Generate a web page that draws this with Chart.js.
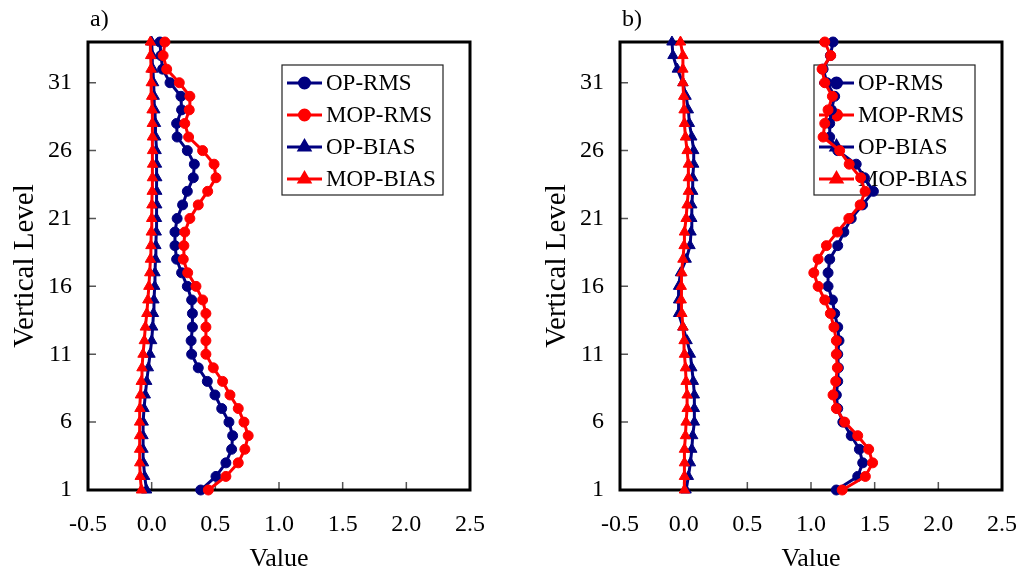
<!DOCTYPE html>
<html>
<head>
<meta charset="utf-8">
<script src="https://cdn.jsdelivr.net/npm/chart.js@4/dist/chart.umd.min.js"></script>
<style>
html,body{margin:0;padding:0;background:#fff;}
#wrap{position:relative;width:1020px;height:577px;}
canvas{position:absolute;top:0;}
</style>
</head>
<body>
<div id="wrap">
<canvas id="chartA" width="510" height="577" style="left:0"></canvas>
<canvas id="chartB" width="510" height="577" style="left:510px"></canvas>
</div>
<script>
// levels 1..34
const levels = [1,2,3,4,5,6,7,8,9,10,11,12,13,14,15,16,17,18,19,20,21,22,23,24,25,26,27,28,29,30,31,32,33,34];
const seriesNames = ["OP-RMS","MOP-RMS","OP-BIAS","MOP-BIAS"];
const panelNames = ["a)","b)"];
const yTicks = [1,6,11,16,21,26,31];
const xTicks = [-0.5,0,0.5,1,1.5,2,2.5];
const xTickLabels = ["-0.5","0.0","0.5","1.0","1.5","2.0","2.5"];

// panel a
const opRmsA = [0.385,0.505,0.583,0.628,0.636,0.607,0.55,0.497,0.437,0.366,0.314,0.31,0.32,0.32,0.314,0.28,0.235,0.196,0.183,0.183,0.2,0.243,0.28,0.327,0.335,0.28,0.2,0.196,0.235,0.23,0.144,0.086,0.073,0.065];
const mopRmsA = [0.445,0.583,0.68,0.732,0.758,0.725,0.68,0.615,0.557,0.484,0.426,0.426,0.426,0.426,0.40,0.348,0.283,0.248,0.253,0.26,0.30,0.366,0.44,0.505,0.49,0.40,0.29,0.26,0.295,0.30,0.217,0.118,0.09,0.104];
const opBiasA = [-0.04,-0.055,-0.064,-0.068,-0.068,-0.066,-0.06,-0.05,-0.039,-0.026,-0.013,0.0,0.008,0.014,0.018,0.024,0.026,0.03,0.033,0.036,0.038,0.04,0.04,0.04,0.038,0.035,0.032,0.03,0.025,0.02,0.015,0.01,0.005,0.0];
const mopBiasA = [-0.08,-0.09,-0.094,-0.095,-0.095,-0.095,-0.092,-0.088,-0.082,-0.076,-0.068,-0.058,-0.05,-0.038,-0.03,-0.022,-0.015,-0.01,-0.006,-0.003,0.0,0.002,0.004,0.006,0.007,0.007,0.006,0.005,0.003,0.0,-0.003,-0.005,-0.008,-0.01];

// panel b
const opRmsB = [1.199,1.367,1.406,1.38,1.316,1.25,1.21,1.199,1.21,1.215,1.21,1.22,1.21,1.186,1.168,1.134,1.134,1.147,1.21,1.258,1.316,1.405,1.49,1.42,1.355,1.21,1.147,1.147,1.16,1.186,1.126,1.095,1.152,1.173];
const mopRmsB = [1.245,1.427,1.484,1.453,1.367,1.264,1.199,1.173,1.194,1.207,1.199,1.199,1.18,1.152,1.108,1.056,1.022,1.056,1.121,1.207,1.297,1.386,1.425,1.39,1.30,1.225,1.095,1.108,1.134,1.168,1.108,1.087,1.155,1.108];
const opBiasB = [0.019,0.037,0.053,0.064,0.071,0.084,0.084,0.084,0.076,0.064,0.053,0.027,-0.006,-0.04,-0.04,-0.04,-0.025,0.02,0.05,0.058,0.064,0.064,0.071,0.071,0.079,0.079,0.064,0.045,0.037,0.019,-0.006,-0.05,-0.084,-0.092];
const mopBiasB = [0.006,0.006,0.006,0.006,0.014,0.019,0.027,0.027,0.019,0.014,0.006,0.003,-0.006,-0.014,-0.019,-0.019,-0.014,-0.006,0.003,0.006,0.019,0.027,0.037,0.037,0.037,0.027,0.014,0.006,0.003,0.0,-0.006,-0.006,-0.006,-0.025];

const NAVY = "#000080", RED = "#ff0000";
const colors = [NAVY, RED, NAVY, RED];
const shapes = ["circle","circle","triangle","triangle"];

Chart.defaults.font.family = "'Liberation Serif','Times New Roman',serif";
Chart.defaults.color = "#000";

function makeSet(i, vals){
  return {
    label: seriesNames[i],
    data: vals.map((v, k) => ({x: v, y: levels[k]})),
    showLine: true,
    borderColor: colors[i],
    backgroundColor: colors[i],
    borderWidth: 3,
    pointStyle: shapes[i],
    pointRadius: shapes[i] === "circle" ? 5 : 6,
    pointBorderWidth: 1,
    pointHoverRadius: 5,
    order: 3 - i,
    clip: false
  };
}

const framePlugin = {
  id: "frame",
  beforeDatasetsDraw(chart, args, opts){
    const {ctx, chartArea: a, scales} = chart;
    ctx.save();
    // inner ticks
    ctx.strokeStyle = "#555";
    ctx.lineWidth = 1.5;
    ctx.beginPath();
    yTicks.forEach(t => {
      const y = scales.y.getPixelForValue(t);
      ctx.moveTo(a.left, y); ctx.lineTo(a.left + 8, y);
    });
    xTicks.forEach(t => {
      const x = scales.x.getPixelForValue(t);
      ctx.moveTo(x, a.bottom); ctx.lineTo(x, a.bottom - 8);
    });
    ctx.stroke();
    // box
    ctx.strokeStyle = "#000";
    ctx.lineWidth = 3;
    ctx.strokeRect(a.left, a.top, a.right - a.left, a.bottom - a.top);
    // legend
    const lx = a.left + 194, ly = a.top + 23, lw = 161, lh = 130;
    ctx.lineWidth = 1.2;
    ctx.strokeStyle = "#222";
    ctx.strokeRect(lx, ly, lw, lh);
    ctx.font = "23px 'Liberation Serif','Times New Roman',serif";
    ctx.textBaseline = "middle";
    chart.data.datasets.forEach((ds, i) => {
      const cy = ly + 18 + i * 32;
      ctx.strokeStyle = ds.borderColor;
      ctx.fillStyle = ds.borderColor;
      ctx.lineWidth = 3;
      ctx.beginPath(); ctx.moveTo(lx + 5, cy); ctx.lineTo(lx + 40, cy); ctx.stroke();
      Chart.helpers.drawPoint(ctx, {pointStyle: ds.pointStyle, radius: ds.pointRadius, borderWidth: 1}, lx + 22.5, cy);
      ctx.fillStyle = "#000";
      ctx.fillText(ds.label, lx + 44, cy + 1);
    });
    // panel label
    ctx.textBaseline = "alphabetic";
    ctx.font = "24px 'Liberation Serif','Times New Roman',serif";
    ctx.fillText(opts.text, a.left + 2, 26);
    ctx.restore();
  }
};

function makeChart(id, sets, label, padLeft, padRight){
  return new Chart(document.getElementById(id), {
    type: "scatter",
    data: { datasets: sets.map((v, i) => makeSet(i, v)) },
    plugins: [framePlugin],
    options: {
      responsive: false,
      animation: false,
      layout: { padding: { top: 42, right: padRight, left: padLeft, bottom: 0 } },
      plugins: { legend: { display: false }, tooltip: { enabled: false }, frame: { text: label } },
      scales: {
        x: {
          type: "linear", min: -0.5, max: 2.5,
          afterBuildTicks: s => { s.ticks = xTicks.map(v => ({value: v})); },
          afterFit: s => { s.height = 87; s.paddingLeft = 0; s.paddingRight = 0; },
          grid: { display: false, drawTicks: false },
          border: { display: false },
          ticks: { font: { size: 24 }, padding: 20, callback: (v) => xTickLabels[xTicks.indexOf(v)] },
          title: { display: true, text: "Value", font: { size: 26 }, padding: { top: 0, bottom: 2 } }
        },
        y: {
          type: "linear", min: 1, max: 34,
          afterBuildTicks: s => { s.ticks = yTicks.map(v => ({value: v})); },
          afterFit: s => { s.width = 88; s.paddingTop = 0; s.paddingBottom = 0; },
          grid: { display: false, drawTicks: false },
          border: { display: false },
          ticks: { font: { size: 24 }, padding: 16 },
          title: { display: true, text: "Vertical Level", font: { size: 29 }, padding: { top: 8, bottom: 0 } }
        }
      }
    }
  });
}

makeChart("chartA", [opRmsA, mopRmsA, opBiasA, mopBiasA], panelNames[0], 0, 40);
makeChart("chartB", [opRmsB, mopRmsB, opBiasB, mopBiasB], panelNames[1], 22, 18);
</script>
</body>
</html>
